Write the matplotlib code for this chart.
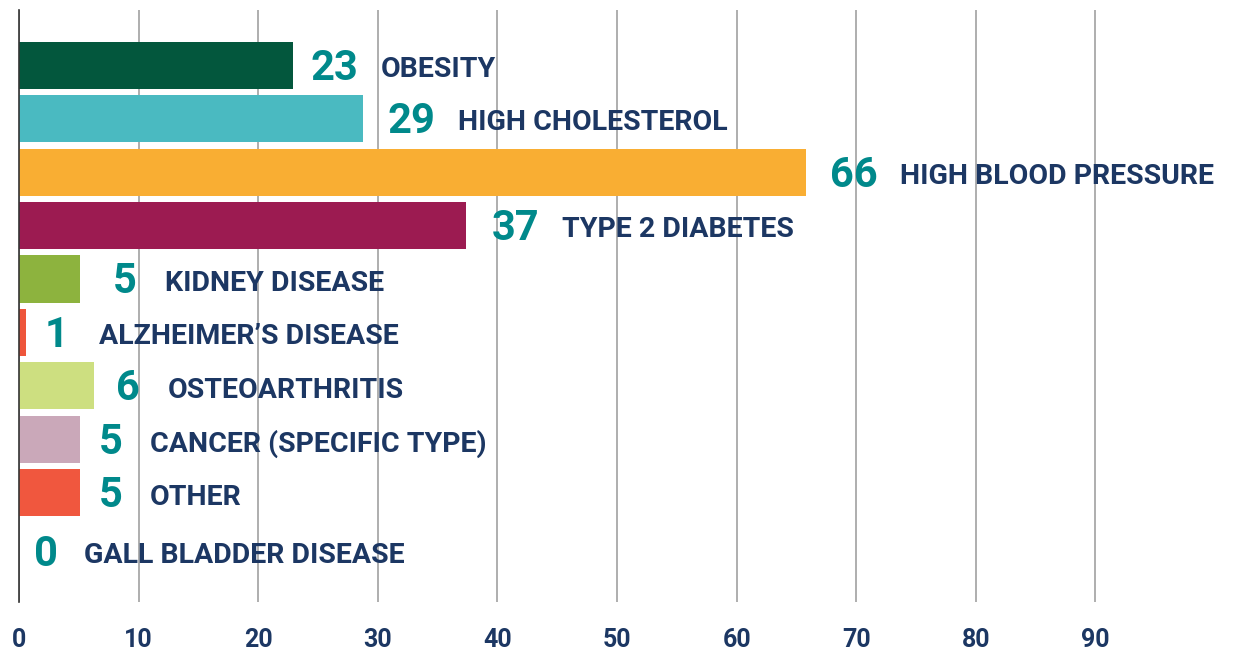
import matplotlib
matplotlib.use("Agg")
import matplotlib.pyplot as plt

categories = ["OBESITY", "HIGH CHOLESTEROL", "HIGH BLOOD PRESSURE", "TYPE 2 DIABETES",
              "KIDNEY DISEASE", "ALZHEIMER\u2019S DISEASE", "OSTEOARTHRITIS",
              "CANCER (SPECIFIC TYPE)", "OTHER", "GALL BLADDER DISEASE"]
bar_values = [22.9, 28.8, 65.8, 37.4, 5.1, 0.6, 6.3, 5.1, 5.1, 0.0]
label_values = [23, 29, 66, 37, 5, 1, 6, 5, 5, 0]
bar_colors = ["#03573D", "#4ABAC1", "#F9AE33", "#9C1B51", "#8DB33E",
              "#EE553B", "#CDDF80", "#CAA8B9", "#F0573E", "#FFFFFF"]
x_ticks = [0, 10, 20, 30, 40, 50, 60, 70, 80, 90]

# layout: gaps (px) between bar end and number, and number and name, per row
num_gap_px = [18, 24, 24, 25, 33, 18, 22, 19, 19, 15]
name_gap_px = [22, 23, 22, 23, 28, 31, 28, 27, 27, 26]
label_dy_px = [-3, -3, -3, -3, -3, -3, -3, -3, -3, -8]

NUM_COLOR = "#00898B"
NAME_COLOR = "#1C3763"
FONT = "Roboto"

W, H, DPI = 1246, 654, 100
fig = plt.figure(figsize=(W / DPI, H / DPI), dpi=DPI)
ax = fig.add_axes([19 / W, 52 / H, 1196 / W, 592 / H])

y = list(range(len(categories)))
ax.barh(y, bar_values, height=0.88, color=bar_colors, zorder=3)
ax.set_xlim(0, 100)
ax.set_ylim(len(categories) - 1 + 1.04, -1.03)

ax.set_xticks(x_ticks)
ax.set_xticklabels([str(t) for t in x_ticks], fontfamily=FONT, fontweight="bold",
                   fontsize=18, color=NAME_COLOR)
ax.tick_params(axis="x", length=0, pad=19)
ax.set_yticks([])
ax.grid(axis="x", color="#A8A8A8", linewidth=1.3, zorder=1)
for s in ["top", "right", "bottom"]:
    ax.spines[s].set_visible(False)
ax.spines["left"].set_color("#333333")
ax.spines["left"].set_linewidth(1.2)
ax.spines["left"].set_zorder(4)

px2pt = 72 / DPI
for i, (v, lab, cat) in enumerate(zip(bar_values, label_values, categories)):
    num = ax.annotate(str(lab), xy=(v, i),
                      xytext=(num_gap_px[i] * px2pt, label_dy_px[i] * px2pt),
                      textcoords="offset points", ha="left", va="center",
                      fontfamily=FONT, fontweight="bold", fontsize=30, color=NUM_COLOR,
                      annotation_clip=False, zorder=5)
    ax.annotate(cat, xy=(1, 0.5), xycoords=num, xytext=(name_gap_px[i] * px2pt, -1),
                textcoords="offset points", ha="left", va="center",
                fontfamily=FONT, fontweight="bold", fontsize=20.5, color=NAME_COLOR,
                annotation_clip=False, zorder=5)

fig.savefig("out.png", dpi=DPI)
